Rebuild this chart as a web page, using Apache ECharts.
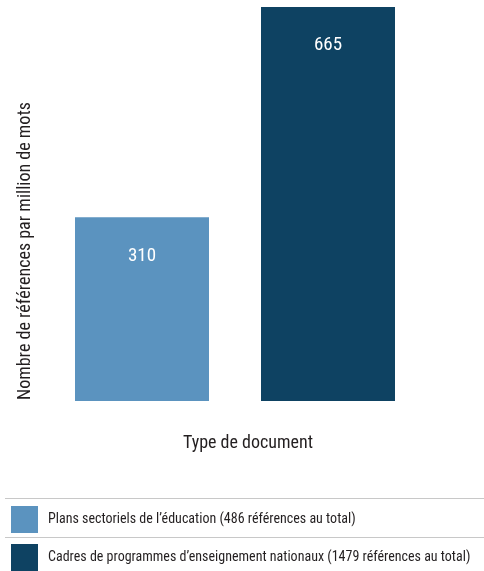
<!DOCTYPE html>
<html><head><meta charset="utf-8">
<script src="https://cdn.jsdelivr.net/npm/echarts@6/dist/echarts.min.js"></script>
<style>html,body{margin:0;padding:0;background:#fff}#c{width:484px;height:571px}</style>
</head><body><div id="c"></div>
<script>
var categories = ['Plans sectoriels', 'Cadres de programmes'];
var seriesNames = ["Plans sectoriels de l\u2019éducation (486 références au total)", "Cadres de programmes d\u2019enseignement nationaux (1479 références au total)"];
var plansValues = [310, '-'];
var cadresValues = ['-', 665];
var yAxisTitle = 'Nombre de références par million de mots';
var xAxisTitle = 'Type de document';

var FONT = '"Roboto Condensed", "DejaVu Sans Condensed", sans-serif';
var TXT = '#231f20';
var chart = echarts.init(document.getElementById('c'));
var legendCommon = { orient: 'vertical', left: 11, padding: 0, itemWidth: 27, itemHeight: 27, icon: 'rect',
  textStyle: { fontFamily: FONT, fontSize: 14, color: TXT, padding: [0,0,0,5] } };
chart.setOption({
  animation: false,
  textStyle: { fontFamily: FONT },
  grid: { left: 49, right: 63, top: 7, bottom: 170 },
  xAxis: { type: 'category', data: categories, axisLine: {show: false}, axisTick: {show: false}, axisLabel: {show: false} },
  yAxis: { type: 'value', min: 0, max: 665, axisLine: {show: false}, axisTick: {show: false}, axisLabel: {show: false}, splitLine: {show: false} },
  legend: [
    Object.assign({}, legendCommon, { top: 506, data: [seriesNames[0]] }),
    Object.assign({}, legendCommon, { top: 544, data: [seriesNames[1]] })
  ],
  series: [
    { name: seriesNames[0], type: 'bar', data: plansValues, barWidth: 134, barGap: '-100%',
      itemStyle: { color: '#5B93BF' },
      label: { show: true, position: 'insideTop', distance: 29, color: '#fff', fontSize: 19, fontFamily: FONT } },
    { name: seriesNames[1], type: 'bar', data: cadresValues, barWidth: 134, barGap: '-100%',
      itemStyle: { color: '#0E4262' },
      label: { show: true, position: 'insideTop', distance: 29, color: '#fff', fontSize: 19, fontFamily: FONT } }
  ],
  graphic: [
    { type: 'text', x: 25, y: 400, rotation: Math.PI/2, style: { text: yAxisTitle, fontFamily: FONT, fontSize: 18, fill: TXT, align: 'left', verticalAlign: 'middle' } },
    { type: 'text', x: 248, y: 443, style: { text: xAxisTitle, fontFamily: FONT, fontSize: 18, fill: TXT, align: 'center', verticalAlign: 'middle' } },
    { type: 'line', shape: { x1: 5, y1: 498.5, x2: 484, y2: 498.5 }, style: { stroke: '#c8c8c8', lineWidth: 1 } },
    { type: 'line', shape: { x1: 5, y1: 537.5, x2: 484, y2: 537.5 }, style: { stroke: '#c8c8c8', lineWidth: 1 } }
  ]
});
</script></body></html>
